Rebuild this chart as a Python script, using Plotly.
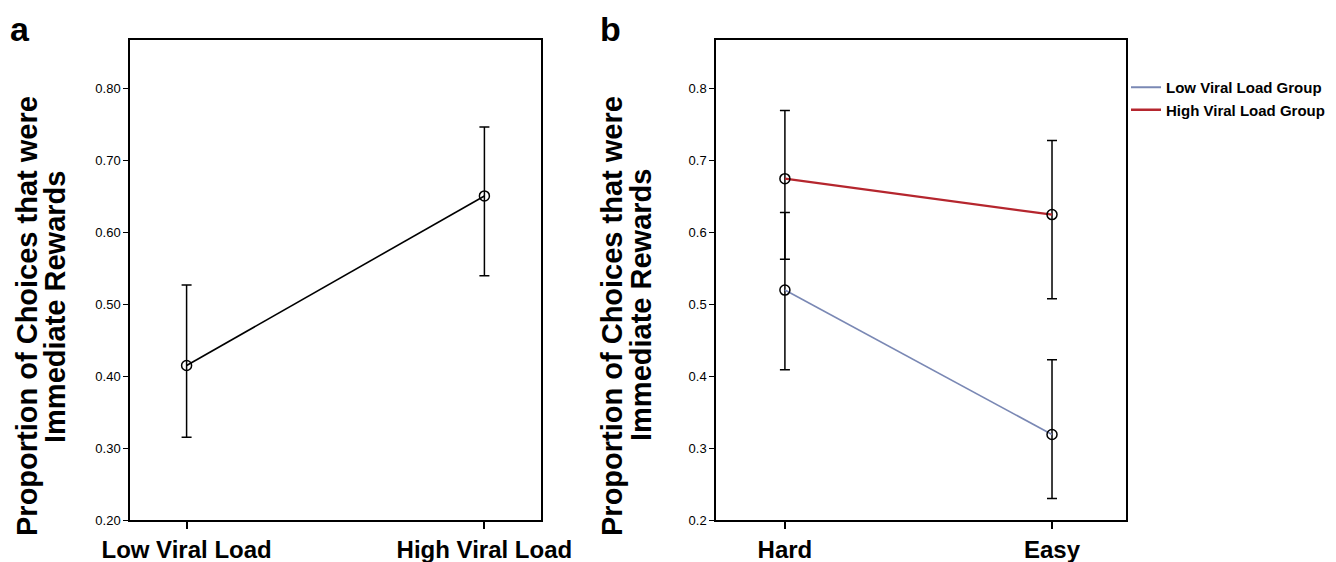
import plotly.graph_objects as go

# Panel a data
a_categories = ["Low Viral Load", "High Viral Load"]
a_means = [0.415, 0.651]
a_upper = [0.527, 0.747]
a_lower = [0.315, 0.540]

# Panel b data
b_categories = ["Hard", "Easy"]
b_low_means = [0.520, 0.319]
b_low_upper = [0.628, 0.423]
b_low_lower = [0.409, 0.230]
b_high_means = [0.675, 0.625]
b_high_upper = [0.770, 0.728]
b_high_lower = [0.563, 0.508]

a_yticks = [0.2, 0.3, 0.4, 0.5, 0.6, 0.7, 0.8]
b_yticks = [0.2, 0.3, 0.4, 0.5, 0.6, 0.7, 0.8]

ytitle_lines = ["Proportion of Choices that were", "Immediate Rewards"]

LOW_COLOR = "#7A88B4"
HIGH_COLOR = "#B5262E"
FONT = "Liberation Sans, Arial, sans-serif"
NARROW = "Liberation Sans Narrow, Arial Narrow, Liberation Sans, Arial, sans-serif"

# page body has an 8px margin; figure starts at (8, 8) and runs to the window edge
OFF = 8
W = 1336 - OFF
H = 562 - OFF


def px(x):
    return (x - OFF) / W


def py(y):
    return 1 - (y - OFF) / H


def err(means, upper, lower):
    return dict(type="data", symmetric=False,
                array=[u - m for u, m in zip(upper, means)],
                arrayminus=[m - l for m, l in zip(means, lower)],
                color="black", thickness=1.5, width=5)


marker = dict(symbol="circle-open", size=10, color="black", line=dict(width=1.5, color="black"))

fig = go.Figure()

fig.add_trace(go.Scatter(
    x=a_categories, y=a_means, mode="lines+markers",
    line=dict(color="black", width=1.6), marker=marker,
    error_y=err(a_means, a_upper, a_lower),
    xaxis="x", yaxis="y", showlegend=False))

fig.add_trace(go.Scatter(
    x=b_categories, y=b_low_means, mode="lines+markers",
    line=dict(color=LOW_COLOR, width=1.6), marker=marker,
    error_y=err(b_low_means, b_low_upper, b_low_lower),
    xaxis="x2", yaxis="y2", showlegend=False))

fig.add_trace(go.Scatter(
    x=b_categories, y=b_high_means, mode="lines+markers",
    line=dict(color=HIGH_COLOR, width=2.2), marker=marker,
    error_y=err(b_high_means, b_high_upper, b_high_lower),
    xaxis="x2", yaxis="y2", showlegend=False))

# legend-only entries (lines without markers)
fig.add_trace(go.Scatter(x=[None], y=[None], mode="lines", name="Low Viral Load Group",
                         line=dict(color=LOW_COLOR, width=2), xaxis="x2", yaxis="y2"))
fig.add_trace(go.Scatter(x=[None], y=[None], mode="lines", name="High Viral Load Group",
                         line=dict(color=HIGH_COLOR, width=2.5), xaxis="x2", yaxis="y2"))

ydom = [py(520), py(40)]
axis_common = dict(showline=True, linecolor="black", linewidth=1.5, mirror=True,
                   ticks="outside", tickcolor="black", showgrid=False, zeroline=False,
                   automargin=False)

fig.update_layout(
    width=W, height=H,
    margin=dict(l=0, r=0, t=0, b=0, pad=0),
    paper_bgcolor="white", plot_bgcolor="white",
    font=dict(family=FONT, color="black"),
    xaxis=dict(domain=[px(130), px(541)], anchor="y", type="category",
               range=[-0.19, 1.19], ticklen=7, tickwidth=1.5,
               tickfont=dict(size=24, family=FONT, weight="bold"), **axis_common),
    yaxis=dict(domain=ydom, anchor="x", range=[0.2, 0.868],
               tickvals=a_yticks, tickformat=".2f", ticklen=5, tickwidth=1.2,
               tickfont=dict(size=13, family=NARROW), **axis_common),
    xaxis2=dict(domain=[px(716), px(1126)], anchor="y2", type="category",
                range=[-0.258, 1.277], ticklen=7, tickwidth=1.5,
                tickfont=dict(size=24, family=FONT, weight="bold"), **axis_common),
    yaxis2=dict(domain=ydom, anchor="x2", range=[0.2, 0.868],
                tickvals=b_yticks, tickformat=".1f", ticklen=5, tickwidth=1.2,
                tickfont=dict(size=13, family=NARROW), **axis_common),
    legend=dict(x=px(1126), y=py(71), xanchor="left", yanchor="top",
                font=dict(size=15, family=NARROW, weight="bold"),
                bgcolor="rgba(0,0,0,0)", tracegroupgap=0, itemwidth=30),
)

# y-axis titles: two rotated lines each, tightly spaced as in the reference
title_pos = [
    [(27, 316), (55, 307)],      # panel a
    [(612, 316), (641, 305)],    # panel b
]
for panel in title_pos:
    for (tx, ty), line in zip(panel, ytitle_lines):
        fig.add_annotation(text=line, x=px(tx), y=py(ty), xref="paper", yref="paper",
                           textangle=-90, showarrow=False, xanchor="center", yanchor="middle",
                           font=dict(size=29, family=FONT, weight="bold"))

fig.add_annotation(text="a", x=px(8), y=py(8), xref="paper", yref="paper",
                   showarrow=False, xanchor="left", yanchor="top",
                   font=dict(size=34, family=FONT, weight="bold"))
fig.add_annotation(text="b", x=px(598), y=py(8), xref="paper", yref="paper",
                   showarrow=False, xanchor="left", yanchor="top",
                   font=dict(size=34, family=FONT, weight="bold"))

fig.write_html("out.html")
